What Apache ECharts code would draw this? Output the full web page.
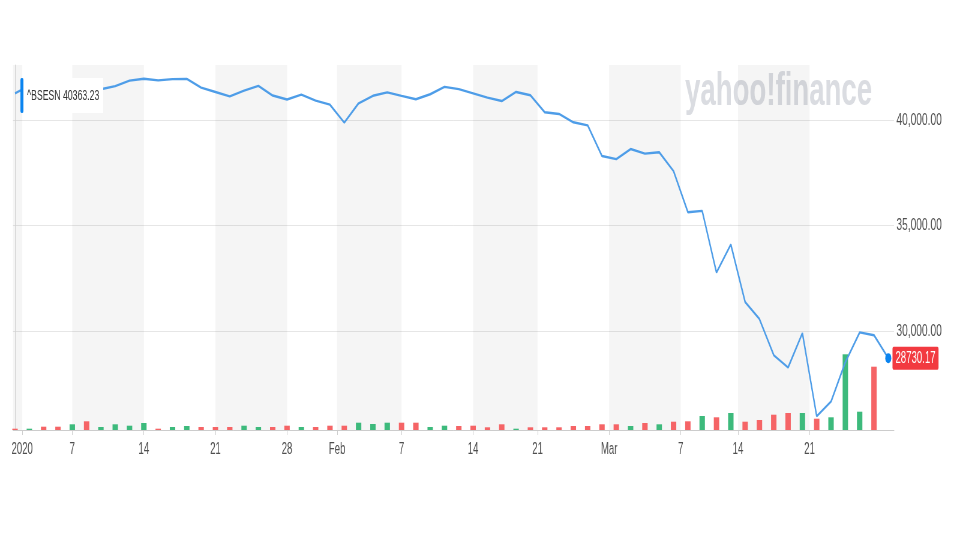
<!DOCTYPE html>
<html>
<head>
<meta charset="utf-8">
<script src="https://cdn.jsdelivr.net/npm/echarts@6/dist/echarts.min.js"></script>
<style>
html,body{margin:0;padding:0;overflow:hidden;background:#fff;width:960px;height:540px}
#wrap{position:absolute;left:0;top:0;width:960px;height:540px;overflow:hidden}
#chart{position:absolute;left:0;top:0;width:1600px;height:540px;transform:scaleX(0.6);transform-origin:0 0}
</style>
</head>
<body>
<div id="wrap"><div id="chart"></div></div>
<script>
// ---- data ----
const dates = [
  '2019-12-31','2020-01-02','2020-01-03','2020-01-06','2020-01-07','2020-01-08','2020-01-09','2020-01-10',
  '2020-01-13','2020-01-14','2020-01-15','2020-01-16','2020-01-17','2020-01-20','2020-01-21','2020-01-22',
  '2020-01-23','2020-01-24','2020-01-27','2020-01-28','2020-01-29','2020-01-30','2020-01-31',
  '2020-02-03','2020-02-04','2020-02-05','2020-02-06','2020-02-07','2020-02-10','2020-02-11','2020-02-12',
  '2020-02-13','2020-02-14','2020-02-17','2020-02-18','2020-02-19','2020-02-20','2020-02-24','2020-02-25',
  '2020-02-26','2020-02-27','2020-02-28',
  '2020-03-02','2020-03-03','2020-03-04','2020-03-05','2020-03-06','2020-03-09','2020-03-11','2020-03-12',
  '2020-03-13','2020-03-16','2020-03-17','2020-03-18','2020-03-19','2020-03-20','2020-03-23','2020-03-24',
  '2020-03-25','2020-03-26','2020-03-27','2020-03-30'
];
const closes = [
  41254, 41626, 41465, 40677, 40869, 40817, 41452, 41600,
  41860, 41952, 41873, 41933, 41945, 41529, 41324, 41115,
  41386, 41613, 41155, 40966, 41198, 40914, 40723,
  39872, 40789, 41143, 41306, 41141, 40980, 41216, 41566,
  41460, 41258, 41056, 40894, 41323, 41170, 40363, 40282,
  39889, 39746, 38297,
  38144, 38624, 38409, 38471, 37577, 35635, 35697, 32778,
  34103, 31390, 30579, 28869, 28288, 29916, 25981, 26674,
  28536, 29947, 29816, 28730.17
];
const volumes = [
  130, 130, 330, 330, 570, 870, 300, 570,
  430, 700, 130, 300, 400, 300, 300, 300,
  430, 300, 300, 430, 300, 300, 430,
  430, 730, 600, 730, 730, 730, 300, 430,
  400, 430, 270, 570, 130, 270, 270, 270,
  400, 400, 570,
  570, 400, 700, 570, 830, 870, 1400, 1270,
  1700, 830, 1000, 1530, 1700, 1700, 1130, 1270,
  7570, 1830, 6330, null
];
const volumeDir = [
  'd','u','d','d','u','d','u','u',
  'u','u','d','u','u','d','d','d',
  'u','u','d','d','u','d','d',
  'd','u','u','u','d','d','u','u',
  'd','d','d','d','u','d','d','d',
  'd','d','d',
  'd','u','d','u','d','d','u','d',
  'u','d','d','d','d','u','d','u',
  'u','u','d', null
];
const tickDates = ['2020-01-01','2020-01-07','2020-01-14','2020-01-21','2020-01-28','2020-02-01',
  '2020-02-07','2020-02-14','2020-02-21','2020-03-01','2020-03-07','2020-03-14','2020-03-21'];
const tickLabels = ['2020','7','14','21','28','Feb','7','14','21','Mar','7','14','21'];
const yTicks = [30000, 35000, 40000];
const legendText = '^BSESN 40363.23';

// ---- layout ----
const SX = 0.6;            // horizontal squeeze of the reference
const W = 960 / SX;        // chart canvas width
const X_MIN = -0.14, X_MAX = 61.4;
const GREEN = '#3dba7c', RED = '#f56466';

function tickPos(d) {
  const i = dates.indexOf(d);
  if (i >= 0) return i;
  const j = dates.findIndex(x => x > d);
  return j - 0.5;
}
const tickPositions = tickDates.map(tickPos);
const edges = [X_MIN].concat(tickPositions, [X_MAX]);
const bands = [];
for (let k = 0; k < edges.length - 1; k++) {
  if (k % 2 === 0) bands.push([{ xAxis: edges[k] }, { xAxis: edges[k + 1] }]);
}

const priceData = closes.map((v, i) => {
  if (i === closes.length - 1) {
    return { value: [i, v], symbol: 'circle', symbolSize: 10, itemStyle: { color: '#0a84f0' } };
  }
  return [i, v];
});
const volData = [];
volumes.forEach((v, i) => {
  if (v == null) return;
  volData.push({ value: [i, v], itemStyle: { color: volumeDir[i] === 'u' ? GREEN : RED } });
});

const FONT = '"Liberation Sans", Arial, sans-serif';
const chart = echarts.init(document.getElementById('chart'), null, { width: W, height: 540 });
chart.setOption({
  animation: false,
  backgroundColor: '#fff',
  grid: { left: 13 / SX, right: W - 894 / SX, top: 65, bottom: 110 },
  xAxis: {
    type: 'value', min: X_MIN, max: X_MAX,
    axisLine: { show: true, lineStyle: { color: '#cccccc', width: 1 } },
    axisTick: { show: true, length: 5, customValues: tickPositions, lineStyle: { color: '#cccccc' } },
    axisLabel: {
      customValues: tickPositions, margin: 12, fontSize: 16, color: '#4f4f4f', fontFamily: FONT,
      formatter: v => { const k = tickPositions.findIndex(p => Math.abs(p - v) < 1e-6); return k >= 0 ? tickLabels[k] : ''; }
    },
    splitLine: { show: false }
  },
  yAxis: [{
    type: 'value', position: 'right', min: 25330, max: 42600, scale: true,
    axisLine: { show: true, lineStyle: { color: '#d9d9d9' } },
    axisTick: { show: false, customValues: yTicks },
    axisLabel: {
      customValues: yTicks, margin: 4, fontSize: 17, color: '#4f4f4f', fontFamily: FONT,
      formatter: v => v.toLocaleString('en-US', { minimumFractionDigits: 2, maximumFractionDigits: 2 })
    },
    splitLine: { show: true, lineStyle: { color: '#e6e6e6', width: 1 } }
  }, {
    type: 'value', min: 0, max: 36500, show: false,
    splitLine: { show: false }
  }],
  series: [{
    type: 'bar', xAxisIndex: 0, yAxisIndex: 1, barWidth: 9, silent: true,
    data: volData,
    markArea: { silent: true, itemStyle: { color: 'rgba(0,0,0,0.04)' }, data: bands }
  }, {
    type: 'line', xAxisIndex: 0, yAxisIndex: 0, z: 5,
    symbol: 'none', showSymbol: true,
    data: priceData,
    lineStyle: { color: '#4e9de8', width: 2.4 },
    itemStyle: { color: '#4e9de8' },
    endLabel: {
      show: true, distance: 7,
      formatter: p => p.value[1].toFixed(2),
      color: '#fff', backgroundColor: '#f23a40', padding: [4, 5, 3, 5], borderRadius: 2,
      fontSize: 16, fontFamily: FONT
    }
  }],
  graphic: [{
    type: 'text', left: 685 / SX, top: 69, z: 1, silent: true,
    style: { text: 'yahoo!finance', font: 'bold 46px ' + FONT, fill: '#dadce1' }
  }, {
    type: 'rect', shape: { x: 34, y: 78, width: 138, height: 35 }, z: 10,
    style: { fill: '#ffffff' }
  }, {
    type: 'rect', shape: { x: 34, y: 78, width: 5, height: 35, r: 2 }, z: 11,
    style: { fill: '#0a84f0' }
  }, {
    type: 'text', x: 45, y: 96, z: 11,
    style: { text: legendText, font: '14.5px ' + FONT, fill: '#333', verticalAlign: 'middle' }
  }]
});
</script>
</body>
</html>
